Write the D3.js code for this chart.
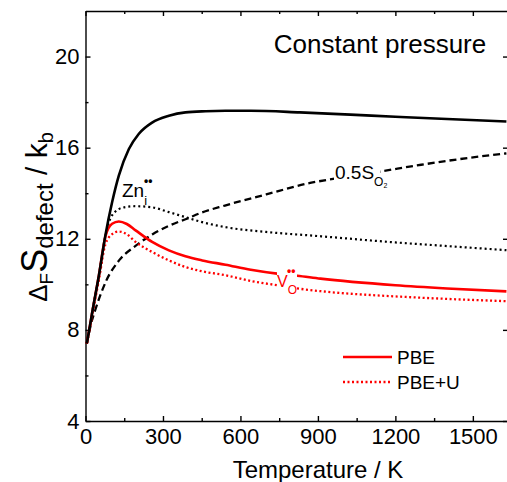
<!DOCTYPE html>
<html lang="en">
<head>
  <meta charset="UTF-8">
  <title>Defect formation entropy vs temperature</title>
  <style>
    html, body { margin: 0; background: #fff; }
    text { font-family: 'Liberation Sans', Arial, sans-serif; fill: #000; }
    .axis path, .axis line { stroke: #000; stroke-width: 1.4px; }
    .axis text { font-size: 22px; font-family: 'Liberation Sans', Arial, sans-serif; }
    .curve { fill: none; }
  </style>
</head>
<body>
<svg id="chart" width="507" height="482" viewBox="0 0 507 482"></svg>
<script src="https://d3js.org/d3.v7.min.js"></script>
<script>

// values (temperature in K, entropy in k_b)
const tTotal = [5, 13, 25, 52, 77, 103, 129, 168, 206, 258, 323, 387, 465, 542, 640, 830, 1026, 1200, 1400, 1630];
const sTotal = [7.4, 7.9, 8.7, 10.4, 12.15, 13.6, 14.77, 15.94, 16.6, 17.1, 17.4, 17.55, 17.6, 17.62, 17.62, 17.55, 17.45, 17.36, 17.26, 17.15];

const tO2 = [5, 20, 40, 60, 80, 130, 195, 260, 325, 390, 450, 540, 700, 870, 1000, 1140, 1300, 1450, 1630];
const sO2 = [7.4, 8.2, 8.95, 9.6, 10.15, 11.05, 11.7, 12.2, 12.58, 12.87, 13.15, 13.46, 13.95, 14.45, 14.7, 14.95, 15.25, 15.5, 15.75];

const tZn = [5, 13, 25, 52, 77, 95, 129, 160, 194, 258, 323, 387, 452, 542, 700, 900, 1200, 1400, 1630];
const sZn = [7.4, 7.9, 8.7, 10.4, 12.1, 12.85, 13.3, 13.4, 13.43, 13.38, 13.17, 12.95, 12.73, 12.51, 12.3, 12.12, 11.84, 11.68, 11.5];

const tVo = [5, 13, 25, 52, 77, 103, 129, 160, 194, 258, 323, 387, 452, 542, 640, 742, 820, 910, 1200, 1400, 1630];
const sVoPBE = [7.4, 7.9, 8.7, 10.4, 12.1, 12.66, 12.76, 12.65, 12.37, 11.86, 11.49, 11.23, 11.05, 10.86, 10.64, 10.47, 10.38, 10.25, 9.96, 9.82, 9.69];
const sVoPBEU = [7.4, 7.85, 8.6, 10.2, 11.75, 12.2, 12.32, 12.2, 11.86, 11.42, 11.05, 10.76, 10.57, 10.4, 10.15, 9.96, 9.82, 9.7, 9.47, 9.36, 9.26];

const xTicks = [0, 300, 600, 900, 1200, 1500];
const xMinor = [150, 450, 750, 1050, 1350];
const yTicks = [4, 8, 12, 16, 20];
const yMinor = [6, 10, 14, 18];

const svg = d3.select("#chart");
const padL = 85.5, padR = 509, padT = 11, padB = 421;

const x = d3.scaleLinear().domain([0, 1640]).range([padL, padR]);
const y = d3.scaleLinear().domain([4, 22]).range([padB, padT]);

// minor ticks first, then major axes on top
svg.append("g").attr("class", "axis")
    .attr("transform", "translate(0," + padB + ")")
    .call(d3.axisBottom(x).tickValues(xMinor).tickSize(-3).tickFormat(""))
    .select(".domain").remove();
svg.append("g").attr("class", "axis")
    .attr("transform", "translate(0," + padT + ")")
    .call(d3.axisTop(x).tickValues(xMinor).tickSize(-3).tickFormat(""))
    .select(".domain").remove();
svg.append("g").attr("class", "axis")
    .attr("transform", "translate(" + padL + ",0)")
    .call(d3.axisLeft(y).tickValues(yMinor).tickSize(-3).tickFormat(""))
    .select(".domain").remove();

svg.append("g").attr("class", "axis")
    .attr("transform", "translate(0," + padB + ")")
    .call(d3.axisBottom(x).tickValues(xTicks).tickSize(-5).tickSizeOuter(0).tickPadding(7).tickFormat(d3.format("d")));
svg.append("g").attr("class", "axis")
    .attr("transform", "translate(0," + padT + ")")
    .call(d3.axisTop(x).tickValues(xTicks).tickSize(-5).tickSizeOuter(0).tickFormat(""));
svg.append("g").attr("class", "axis")
    .attr("transform", "translate(" + padL + ",0)")
    .call(d3.axisLeft(y).tickValues(yTicks).tickSize(-5).tickSizeOuter(0).tickPadding(6).tickFormat(d3.format("d")));
svg.append("g").attr("class", "axis")
    .attr("transform", "translate(" + (padR - 1) + ",0)")
    .call(d3.axisRight(y).tickValues(yTicks).tickSize(-5).tickSizeOuter(0).tickFormat(""));

svg.selectAll(".axis text").attr("fill", "#000");

const line = d3.line()
    .x(d => x(d[0]))
    .y(d => y(d[1]))
    .curve(d3.curveMonotoneX);

const plot = svg.append("g");

function drawCurve(ts, vs, color, width, dash) {
  plot.append("path")
      .datum(d3.zip(ts, vs))
      .attr("class", "curve")
      .attr("stroke", color)
      .attr("stroke-width", width)
      .attr("stroke-dasharray", dash)
      .attr("d", line);
}

drawCurve(tO2, sO2, "#000", 2.3, "7,4");
drawCurve(tZn, sZn, "#000", 2.2, "2,3");
drawCurve(tVo, sVoPBEU, "#ff0000", 2.3, "2,2.5");
drawCurve(tVo, sVoPBE, "#ff0000", 2.6, null);
drawCurve(tTotal, sTotal, "#000", 2.6, null);

// labels (white boxes hide the curve behind the text, as in the figure)
svg.append("rect").attr("x", 334).attr("y", 163).attr("width", 46).attr("height", 26).attr("fill", "#fff");
svg.append("rect").attr("x", 277).attr("y", 268).attr("width", 20).attr("height", 28).attr("fill", "#fff");

const o2 = svg.append("text").attr("x", 335).attr("y", 179).style("font-size", "19px");
o2.append("tspan").text("0.5S");
o2.append("tspan").attr("dy", 7).style("font-size", "12px").text("O");
o2.append("tspan").attr("dy", 2).style("font-size", "7px").text("2");

const zn = svg.append("text").attr("x", 122).attr("y", 197).style("font-size", "19px");
zn.append("tspan").text("Zn");
zn.append("tspan").attr("dy", 8).style("font-size", "13px").text("i");
zn.append("tspan").attr("dx", -3).attr("dy", -20).style("font-size", "12px").style("font-weight", "bold").text("••");

const vo = svg.append("text").attr("x", 277).attr("y", 287).style("font-size", "16px").attr("fill", "#ff0000");
vo.append("tspan").attr("fill", "#ff0000").text("V");
vo.append("tspan").attr("dy", 7).style("font-size", "12px").attr("fill", "#ff0000").text("O");
vo.append("tspan").attr("dx", -10).attr("dy", -19).style("font-size", "12px").style("font-weight", "bold").attr("fill", "#ff0000").text("••");

svg.append("text").attr("x", 380).attr("y", 53).attr("text-anchor", "middle")
    .style("font-size", "26px").text("Constant pressure");

// legend
const legend = [
  {name: "PBE", dash: null, width: 2.6},
  {name: "PBE+U", dash: "2,2.5", width: 2.3}
];
legend.forEach((d, i) => {
  const ly = 357 + i * 25;
  svg.append("line").attr("x1", 343).attr("x2", 392).attr("y1", ly).attr("y2", ly)
      .attr("stroke", "#ff0000").attr("stroke-width", d.width).attr("stroke-dasharray", d.dash);
  svg.append("text").attr("x", 397).attr("y", ly + 7).style("font-size", "19px").text(d.name);
});

// axis titles
svg.append("text").attr("x", 318).attr("y", 478).attr("text-anchor", "middle")
    .style("font-size", "24px").text("Temperature / K");

const yt = svg.append("text").attr("transform", "translate(47,217) rotate(-90)")
    .attr("text-anchor", "middle").style("font-size", "30px");
yt.append("tspan").style("font-size", "26px").text("Δ");
yt.append("tspan").attr("dy", 6).style("font-size", "19px").text("F");
yt.append("tspan").attr("dy", -6).style("font-size", "36px").text("S");
yt.append("tspan").attr("dy", 6).style("font-size", "24px").text("defect");
yt.append("tspan").attr("dy", -6).text(" / k");
yt.append("tspan").attr("dy", 6).style("font-size", "20px").text("b");

</script>
</body>
</html>
